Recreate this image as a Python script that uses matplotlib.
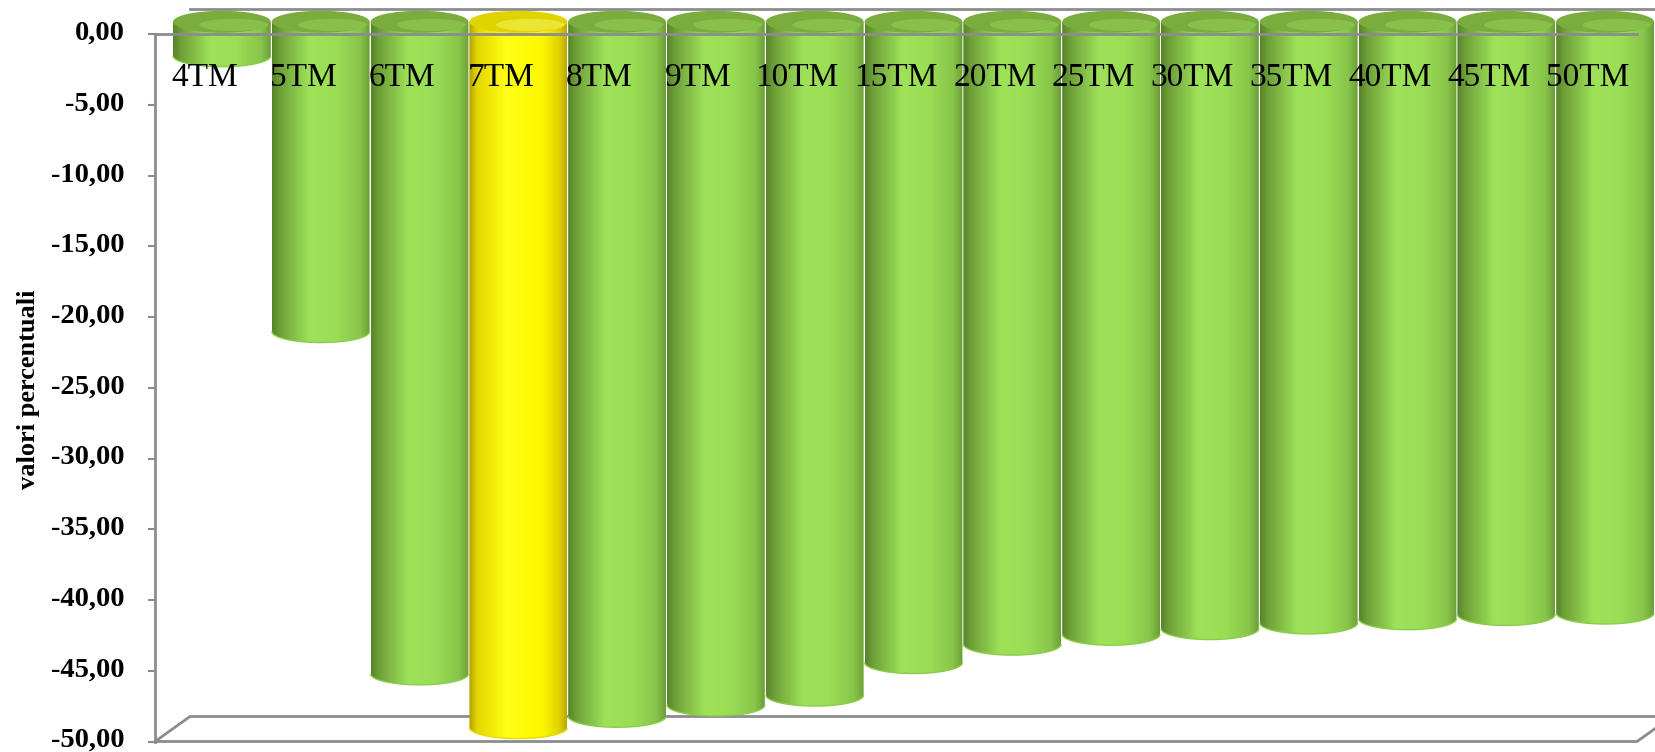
import numpy as np
import matplotlib.pyplot as plt
import matplotlib.transforms as mtransforms
from matplotlib.patches import Ellipse, PathPatch, Polygon
from matplotlib.path import Path
from matplotlib.colors import LinearSegmentedColormap

# dati
categorie = ["4TM", "5TM", "6TM", "7TM", "8TM", "9TM", "10TM", "15TM",
             "20TM", "25TM", "30TM", "35TM", "40TM", "45TM", "50TM"]
valori = [-2.4, -21.9, -46.1, -49.9, -49.1, -48.3, -47.6, -45.3,
          -44.0, -43.3, -42.9, -42.5, -42.2, -41.9, -41.8]
evidenziato = "7TM"
tick_valori = [0, -5, -10, -15, -20, -25, -30, -35, -40, -45, -50]
tick_testi = ["0,00", "-5,00", "-10,00", "-15,00", "-20,00", "-25,00",
              "-30,00", "-35,00", "-40,00", "-45,00", "-50,00"]
etichetta_y = "valori percentuali"

plt.rcParams['font.family'] = ['Liberation Serif', 'DejaVu Serif']

W, H = 1656, 752
fig = plt.figure(figsize=(W / 100, H / 100), dpi=100)
# piano frontale del grafico 3D (pixel)
x0, x1, y_top, y_bot = 155, 1637, 34.3, 741.5
ax = fig.add_axes([x0 / W, (H - y_bot) / H, (x1 - x0) / W, (y_bot - y_top) / H])
ax.patch.set_visible(False)

n = len(categorie)
ymin = min(tick_valori)
ax.set_xlim(0, n)
ax.set_ylim(ymin, 0)

# profondita' 3D in pixel
back_dx, back_dy = 35, 25
mid = mtransforms.offset_copy(ax.transData, fig=fig, x=back_dx / 2, y=back_dy / 2, units='dots')
px_x = (x1 - x0) / n
px_y = (y_bot - y_top) / abs(ymin)
bx, by = back_dx / px_x, back_dy / px_y

grigio = '#8c8c8c'

# pavimento e parete di fondo
floor = Polygon([(0, ymin), (n, ymin), (n + bx, ymin + by), (bx, ymin + by)],
                closed=True, fill=False, edgecolor=grigio, lw=2, clip_on=False, zorder=1)
ax.add_patch(floor)
ax.plot([bx, n + bx], [by, by], color=grigio, lw=2, clip_on=False, zorder=1)

cmap_verde = LinearSegmentedColormap.from_list(
    'verde', [(0, '#56842a'), (0.08, '#6e9f38'), (0.38, '#9de259'),
              (0.65, '#9ade56'), (0.9, '#88c54a'), (1, '#6c9e38')])
cmap_giallo = LinearSegmentedColormap.from_list(
    'giallo', [(0, '#b0a000'), (0.08, '#e2d600'), (0.38, '#ffff14'),
               (0.75, '#fcf800'), (0.92, '#e0d200'), (1, '#b8a800')])
grad = np.linspace(0, 1, 256).reshape(1, -1)

w = 0.99
h = 22 / px_y  # altezza ellisse in unita' dati
t = np.linspace(np.pi, 2 * np.pi, 60)

for i, (cat, v) in enumerate(zip(categorie, valori)):
    cx = i + 0.5
    giallo = cat == evidenziato
    cmap = cmap_giallo if giallo else cmap_verde
    top_col = '#e0d400' if giallo else '#7aad3e'
    z = 3 + i * 0.01

    # corpo del cilindro con semi-ellisse inferiore
    xs = np.concatenate([[cx - w / 2], cx + w / 2 * np.cos(t), [cx + w / 2, cx - w / 2]])
    ys = np.concatenate([[0], v + h / 2 * np.sin(t), [0, 0]])
    clip = PathPatch(Path(np.column_stack([xs, ys]), closed=True), transform=mid)
    im = ax.imshow(grad, cmap=cmap, aspect='auto', interpolation='bilinear',
                   extent=[cx - w / 2, cx + w / 2, v - h / 2, 0],
                   transform=mid, zorder=z)
    im.set_clip_box(fig.bbox)
    im.set_clip_path(clip)
    rim = PathPatch(Path(np.column_stack([cx + w / 2 * np.cos(t), v + h / 2 * np.sin(t)])),
                    transform=mid, fill=False, edgecolor='#8ccc4c' if not giallo else '#e8dc00',
                    lw=1, zorder=z + 0.001, clip_on=False)
    ax.add_patch(rim)

    # faccia superiore
    top = Ellipse((cx, 0), w, h, transform=mid, facecolor=top_col,
                  edgecolor='none', zorder=z + 0.002, clip_on=False)
    ax.add_patch(top)
    hl = Ellipse((cx + 0.12, -h * 0.14), w * 0.7, h * 0.55, transform=mid,
                 facecolor='#ffff80' if giallo else '#a0dc60', alpha=0.4,
                 edgecolor='none', zorder=z + 0.003, clip_on=False)
    ax.add_patch(hl)

    # etichetta categoria
    ax.text(cx, -3.1, cat, ha='center', va='center', fontsize=24,
            color='black', zorder=10, clip_on=False)

# linea dello zero sul piano frontale
ax.plot([0, n], [0, 0], color=grigio, lw=2, zorder=8, clip_on=False)

ax.set_xlim(0, n)
ax.set_ylim(ymin, 0)
ax.set_xticks([])
ax.set_yticks(tick_valori)
ax.set_yticklabels(tick_testi, fontsize=20.5, fontweight='bold')
ax.tick_params(axis='y', length=5, width=1.5, color=grigio, pad=17)
su = mtransforms.ScaledTranslation(0, 4 / 100, fig.dpi_scale_trans)
for lab in ax.get_yticklabels():
    lab.set_va('center_baseline')
    lab.set_transform(lab.get_transform() + su)
for s in ['top', 'right', 'bottom']:
    ax.spines[s].set_visible(False)
ax.spines['left'].set_color(grigio)
ax.spines['left'].set_linewidth(2)
ax.spines['left'].set_zorder(9)

fig.text(29 / W, 1 - 389 / H, etichetta_y, rotation=90, ha='center', va='center',
         fontsize=19, fontweight='bold')

fig.savefig('out.png', dpi=100)
